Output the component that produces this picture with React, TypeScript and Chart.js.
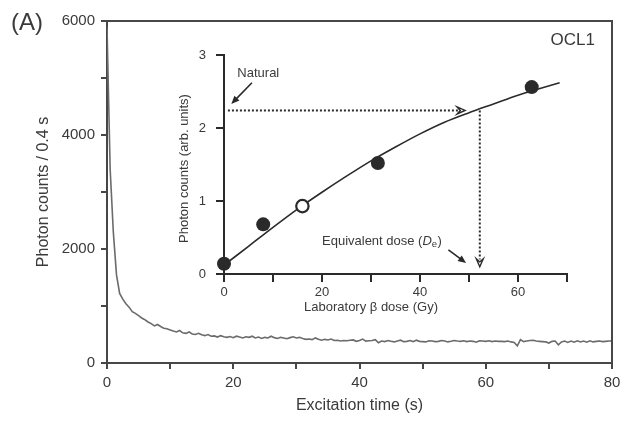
import React, { useEffect, useRef } from 'react';
import { Chart, registerables } from 'chart.js';

Chart.register(...registerables);

const FONT = "'Liberation Sans', Arial, Helvetica, sans-serif";
Chart.defaults.font.family = FONT;

// ---- Main panel: OSL decay curve ----
const excitationTime = [
  0, 0.5, 1, 1.5, 2, 2.5, 3, 3.5, 4, 4.5,
  5, 5.5, 6, 6.5, 7, 7.5, 8, 8.5, 9, 9.5,
  10, 10.5, 11, 11.5, 12, 12.5, 13, 13.5, 14, 14.5,
  15, 15.5, 16, 16.5, 17, 17.5, 18, 18.5, 19, 19.5,
  20, 20.5, 21, 21.5, 22, 22.5, 23, 23.5, 24, 24.5,
  25, 25.5, 26, 26.5, 27, 27.5, 28, 28.5, 29, 29.5,
  30, 30.5, 31, 31.5, 32, 32.5, 33, 33.5, 34, 34.5,
  35, 35.5, 36, 36.5, 37, 37.5, 38, 38.5, 39, 39.5,
  40, 40.5, 41, 41.5, 42, 42.5, 43, 43.5, 44, 44.5,
  45, 45.5, 46, 46.5, 47, 47.5, 48, 48.5, 49, 49.5,
  50, 50.5, 51, 51.5, 52, 52.5, 53, 53.5, 54, 54.5,
  55, 55.5, 56, 56.5, 57, 57.5, 58, 58.5, 59, 59.5,
  60, 60.5, 61, 61.5, 62, 62.5, 63, 63.5, 64, 64.5,
  65, 65.5, 66, 66.5, 67, 67.5, 68, 68.5, 69, 69.5,
  70, 70.5, 71, 71.5, 72, 72.5, 73, 73.5, 74, 74.5,
  75, 75.5, 76, 76.5, 77, 77.5, 78, 78.5, 79, 79.5,
  80,
];
const photonCounts = [
  5900, 3400, 2300, 1550, 1220, 1120, 1040, 980, 900, 870,
  830, 790, 760, 720, 690, 650, 675, 640, 610, 600,
  580, 560, 545, 570, 530, 520, 545, 510, 500, 520,
  495, 480, 500, 470, 475, 455, 480, 460, 450, 465,
  445, 470, 455, 440, 460, 450, 470, 440, 455, 430,
  450, 440, 470, 445, 430, 450, 440, 425, 445, 460,
  440, 450, 430, 415, 420, 410, 440, 415, 400, 415,
  405, 420, 395, 400, 385, 395, 390, 400, 405, 380,
  395, 420, 385, 390, 395, 410, 355, 385, 375, 395,
  380, 370, 385, 400, 375, 380, 395, 375, 400, 380,
  375, 370, 390, 385, 375, 380, 395, 385, 370, 380,
  395, 385, 380, 390, 375, 385, 380, 365, 390, 385,
  380, 390, 375, 385, 380, 380, 375, 385, 370, 360,
  300, 410, 375, 385, 395, 400, 385, 380, 375, 370,
  350, 380, 385, 320, 370, 385, 360, 385, 365, 390,
  370, 385, 365, 390, 370, 380, 385, 375, 380, 385,
  385,
];
const mainXLabels = [0, 20, 40, 60, 80];
const mainYLabels = [0, 2000, 4000, 6000];

// ---- Inset: dose-response curve ----
const fitDose = [0, 5, 10, 15, 20, 25, 30, 35, 40, 45, 50, 55, 60, 65, 68.5];
const fitSignal = [0.12, 0.38, 0.64, 0.89, 1.12, 1.34, 1.55, 1.74, 1.92, 2.08, 2.21, 2.33, 2.45, 2.55, 2.62];
const regenDose = [0, 8, 31.4, 62.8];
const regenSignal = [0.14, 0.68, 1.52, 2.56];
const recycleDose = [16];
const recycleSignal = [0.93];
const naturalSignal = 2.24;
const equivalentDose = 52.2;
const naturalArrowEnd = 49.2;
const deArrowTip = 0.1;
const insetXLabels = [0, 20, 40, 60];

const INK = '#2a2a2a';
const AXIS = '#474747';
const TEXT = '#3a3a3a';

function filledArrow(ctx: CanvasRenderingContext2D, x1: number, y1: number, x2: number, y2: number) {
  const a = Math.atan2(y2 - y1, x2 - x1);
  const head = 8, w = 3.5;
  const c = Math.cos(a), s = Math.sin(a);
  ctx.beginPath();
  ctx.moveTo(x1, y1);
  ctx.lineTo(x2 - c * head * 0.7, y2 - s * head * 0.7);
  ctx.stroke();
  ctx.beginPath();
  ctx.moveTo(x2, y2);
  ctx.lineTo(x2 - head * c + w * s, y2 - head * s - w * c);
  ctx.lineTo(x2 - head * c - w * s, y2 - head * s + w * c);
  ctx.closePath();
  ctx.fill();
}

function openHead(ctx: CanvasRenderingContext2D, x: number, y: number, a: number) {
  const head = 8, w = 3.5;
  const c = Math.cos(a), s = Math.sin(a);
  ctx.beginPath();
  ctx.moveTo(x - head * c + w * s, y - head * s - w * c);
  ctx.lineTo(x, y);
  ctx.lineTo(x - head * c - w * s, y - head * s + w * c);
  ctx.lineTo(x - head * 0.6 * c, y - head * 0.6 * s);
  ctx.closePath();
  ctx.stroke();
}

const mainPlugin = {
  id: 'mainDecor',
  afterDraw(chart: any) {
    const { ctx, chartArea } = chart;
    const { left, right, top, bottom } = chartArea;
    ctx.save();
    ctx.strokeStyle = AXIS;
    ctx.lineWidth = 2;
    ctx.beginPath();
    ctx.moveTo(left, top);
    ctx.lineTo(right, top);
    ctx.lineTo(right, bottom);
    ctx.stroke();

    ctx.fillStyle = TEXT;
    ctx.font = `16px ${FONT}`;
    ctx.textAlign = 'center';
    ctx.textBaseline = 'middle';
    ctx.fillText('Excitation time (s)', (left + right) / 2, 406);

    ctx.save();
    ctx.translate(44, (top + bottom) / 2);
    ctx.rotate(-Math.PI / 2);
    ctx.fillText('Photon counts / 0.4 s', 0, 0);
    ctx.restore();

    ctx.font = `24px ${FONT}`;
    ctx.textAlign = 'left';
    ctx.fillText('(A)', 11, 23);

    ctx.font = `17px ${FONT}`;
    ctx.textAlign = 'right';
    ctx.textBaseline = 'alphabetic';
    ctx.fillText('OCL1', right - 17, top + 24);
    ctx.restore();
  },
};

const insetPlugin = {
  id: 'insetDecor',
  afterDraw(chart: any) {
    const { ctx, scales } = chart;
    const X = (v: number) => scales.x.getPixelForValue(v);
    const Y = (v: number) => scales.y.getPixelForValue(v);
    ctx.save();
    ctx.strokeStyle = INK;
    ctx.fillStyle = INK;
    ctx.lineWidth = 1.4;

    // open arrowheads at ends of the dotted construction lines
    openHead(ctx, X(naturalArrowEnd), Y(naturalSignal), 0);
    openHead(ctx, X(equivalentDose), Y(deArrowTip), Math.PI / 2);

    // annotation arrows
    ctx.lineWidth = 1.6;
    filledArrow(ctx, X(5.7), Y(2.62), X(1.5), Y(2.33));
    filledArrow(ctx, X(45.8), Y(0.33), X(49.4), Y(0.15));

    ctx.fillStyle = TEXT;
    ctx.textBaseline = 'middle';
    ctx.textAlign = 'center';
    ctx.font = `13px ${FONT}`;
    ctx.fillText('Natural', X(7), Y(2.75));

    // Equivalent dose (De)
    ctx.textAlign = 'left';
    let x = X(20);
    const y = Y(0.45);
    const t1 = 'Equivalent dose (';
    ctx.fillText(t1, x, y);
    x += ctx.measureText(t1).width;
    ctx.font = `italic 13px ${FONT}`;
    ctx.fillText('D', x, y);
    x += ctx.measureText('D').width;
    ctx.font = `9.5px ${FONT}`;
    ctx.fillText('e', x, y + 3);
    x += ctx.measureText('e').width + 0.5;
    ctx.font = `13px ${FONT}`;
    ctx.fillText(')', x, y);

    // axis titles
    ctx.textAlign = 'center';
    ctx.fillText('Laboratory \u03B2 dose (Gy)', X(30), 307);
    ctx.save();
    ctx.translate(184, (Y(0) + Y(3)) / 2 + 4);
    ctx.rotate(-Math.PI / 2);
    ctx.fillText('Photon counts (arb. units)', 0, 0);
    ctx.restore();
    ctx.restore();
  },
};

export default function App() {
  const mainRef = useRef<HTMLCanvasElement>(null);
  const insetRef = useRef<HTMLCanvasElement>(null);

  useEffect(() => {
    const main = new Chart(mainRef.current as HTMLCanvasElement, {
      type: 'line',
      data: {
        datasets: [
          {
            data: excitationTime.map((t, i) => ({ x: t, y: photonCounts[i] })),
            borderColor: '#6b6b6b',
            borderWidth: 1.6,
            pointRadius: 0,
            tension: 0,
            fill: false,
          },
        ],
      },
      options: {
        responsive: false,
        animation: false,
        devicePixelRatio: 1,
        events: [],
        layout: { padding: { top: 21, right: 14, left: 0, bottom: 0 } },
        plugins: { legend: { display: false }, tooltip: { enabled: false } },
        scales: {
          x: {
            type: 'linear',
            min: 0,
            max: 80,
            afterFit: (s: any) => { s.height = 59; },
            ticks: {
              stepSize: 10,
              autoSkip: false,
              maxRotation: 0,
              padding: 5,
              color: TEXT,
              font: { size: 15, family: FONT },
              callback: (v: any) => (mainXLabels.includes(Number(v)) ? String(v) : ''),
            },
            grid: { drawOnChartArea: false, tickLength: 6, color: AXIS, lineWidth: 2 },
            border: { color: AXIS, width: 2 },
          },
          y: {
            type: 'linear',
            min: 0,
            max: 6000,
            afterFit: (s: any) => { s.width = 107; },
            ticks: {
              stepSize: 1000,
              autoSkip: false,
              padding: 6,
              color: TEXT,
              font: { size: 15, family: FONT },
              callback: (v: any) => (mainYLabels.includes(Number(v)) ? String(v) : ''),
            },
            grid: { drawOnChartArea: false, tickLength: 6, color: AXIS, lineWidth: 2 },
            border: { color: AXIS, width: 2 },
          },
        },
      },
      plugins: [mainPlugin],
    } as any);

    const inset = new Chart(insetRef.current as HTMLCanvasElement, {
      type: 'line',
      data: {
        datasets: [
          {
            data: recycleDose.map((d, i) => ({ x: d, y: recycleSignal[i] })),
            showLine: false,
            pointRadius: 6.2,
            pointBackgroundColor: '#ffffff',
            pointBorderColor: INK,
            pointBorderWidth: 2.2,
            order: 0,
            clip: false,
          },
          {
            data: regenDose.map((d, i) => ({ x: d, y: regenSignal[i] })),
            showLine: false,
            pointRadius: 7,
            pointBackgroundColor: INK,
            pointBorderWidth: 0,
            order: 1,
            clip: false,
          },
          {
            data: fitDose.map((d, i) => ({ x: d, y: fitSignal[i] })),
            borderColor: INK,
            borderWidth: 1.6,
            pointRadius: 0,
            cubicInterpolationMode: 'monotone',
            order: 2,
            clip: false,
          },
          {
            data: [
              { x: 0.8, y: naturalSignal },
              { x: naturalArrowEnd - 1, y: naturalSignal },
            ],
            borderColor: INK,
            borderWidth: 2,
            borderDash: [2, 2],
            pointRadius: 0,
            order: 3,
            clip: false,
          },
          {
            data: [
              { x: equivalentDose, y: naturalSignal },
              { x: equivalentDose, y: deArrowTip + 0.1 },
            ],
            borderColor: INK,
            borderWidth: 2,
            borderDash: [2, 2],
            pointRadius: 0,
            order: 3,
            clip: false,
          },
        ],
      },
      options: {
        responsive: false,
        animation: false,
        devicePixelRatio: 1,
        events: [],
        layout: { padding: { top: 55, right: 59, left: 0, bottom: 0 } },
        plugins: { legend: { display: false }, tooltip: { enabled: false } },
        scales: {
          x: {
            type: 'linear',
            min: 0,
            max: 70,
            afterFit: (s: any) => { s.height = 148; },
            ticks: {
              stepSize: 10,
              autoSkip: false,
              maxRotation: 0,
              padding: 3,
              color: TEXT,
              font: { size: 13, family: FONT },
              callback: (v: any) => (insetXLabels.includes(Number(v)) ? String(v) : ''),
            },
            grid: { drawOnChartArea: false, tickLength: 8, color: INK, lineWidth: 2 },
            border: { color: INK, width: 2 },
          },
          y: {
            type: 'linear',
            min: 0,
            max: 3,
            afterFit: (s: any) => { s.width = 224; },
            ticks: {
              stepSize: 1,
              autoSkip: false,
              padding: 10,
              color: TEXT,
              font: { size: 13, family: FONT },
            },
            grid: { drawOnChartArea: false, tickLength: 8, color: INK, lineWidth: 2 },
            border: { color: INK, width: 2 },
          },
        },
      },
      plugins: [insetPlugin],
    } as any);

    return () => {
      main.destroy();
      inset.destroy();
    };
  }, []);

  return (
    <div style={{ position: 'absolute', left: 0, top: 0, width: 626, height: 422, background: '#ffffff' }}>
      <canvas ref={mainRef} width={626} height={422} style={{ position: 'absolute', left: 0, top: 0 }} />
      <canvas ref={insetRef} width={626} height={422} style={{ position: 'absolute', left: 0, top: 0 }} />
    </div>
  );
}
